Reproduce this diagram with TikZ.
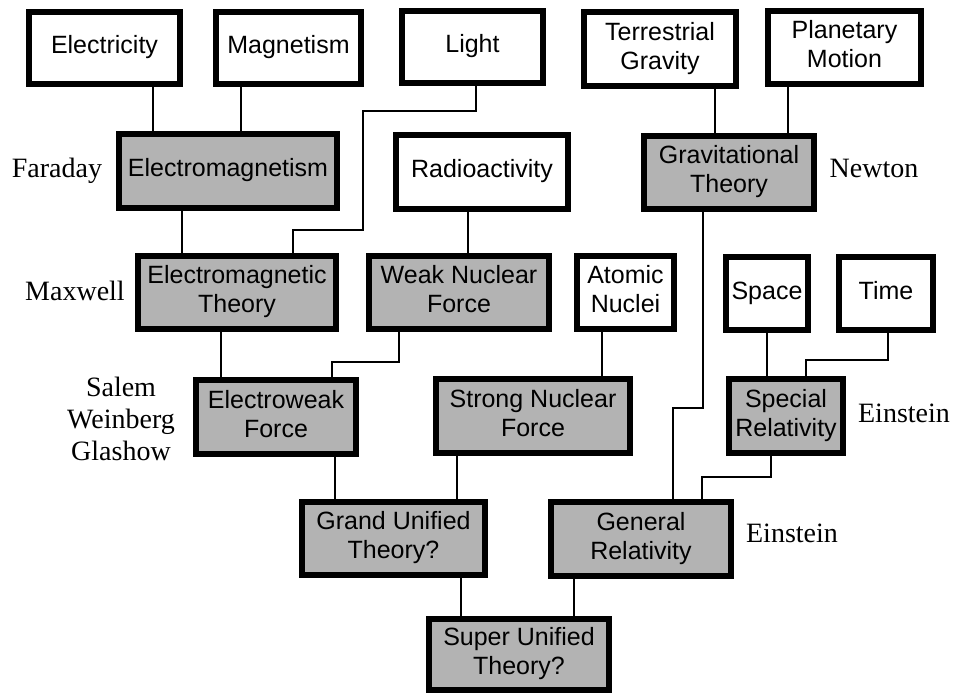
\documentclass[tikz,border=0pt]{standalone}
\usepackage{fontspec}
\setmainfont{Liberation Serif}
\newfontfamily\boxfont{Liberation Sans}
\definecolor{boxgray}{RGB}{179,179,179}
\begin{document}
\begin{tikzpicture}[x=1pt,y=-1pt,
  wbox/.style={draw=black, line width=6pt, fill=white, inner sep=0pt, align=center,
    font=\boxfont\fontsize{25}{29}\selectfont},
  gbox/.style={wbox, fill=boxgray},
  lab/.style={inner sep=0pt, align=center, font=\fontsize{28}{32}\selectfont},
  link/.style={line width=1.5pt, line cap=rect}]
\useasboundingbox[fill=white] (0,0) rectangle (953,693);
% top row
\node[wbox, minimum width=151, minimum height=72] (elec) at (104.5,48) {\strut Electricity};
\node[wbox, minimum width=145, minimum height=72] (mag) at (288.5,48) {\strut Magnetism};
\node[wbox, minimum width=141, minimum height=72] (light) at (472.5,47) {\strut Light};
\node[wbox, minimum width=152, minimum height=74] (terr) at (660,49) {\strut Terrestrial\\Gravity\strut};
\node[wbox, minimum width=153, minimum height=73] (plan) at (844.5,47.5) {\strut Planetary\\Motion\strut};
% second row
\node[gbox, minimum width=218, minimum height=74] (em) at (228,171) {\strut Electromagnetism};
\node[wbox, minimum width=172, minimum height=74] (radio) at (482,172) {\strut Radioactivity};
\node[gbox, minimum width=170, minimum height=73] (grav) at (729,172.5) {\strut Gravitational\\Theory\strut};
% third row
\node[gbox, minimum width=198, minimum height=73] (emt) at (237,292.5) {\strut Electromagnetic\\Theory\strut};
\node[gbox, minimum width=180, minimum height=73] (weak) at (459,292.5) {\strut Weak Nuclear\\Force\strut};
\node[wbox, minimum width=97, minimum height=73] (atom) at (625.5,292.5) {\strut Atomic\\Nuclei\strut};
\node[wbox, minimum width=82, minimum height=73] (space) at (767,293.5) {\strut Space};
\node[wbox, minimum width=94, minimum height=73] (time) at (886,293.5) {\strut Time};
% fourth row
\node[gbox, minimum width=160, minimum height=74] (ew) at (276,417) {\strut Electroweak\\Force\strut};
\node[gbox, minimum width=194, minimum height=74] (strong) at (533,416) {\strut Strong Nuclear\\Force\strut};
\node[gbox, minimum width=114, minimum height=74] (sr) at (786,416) {\strut Special\\Relativity\strut};
% fifth row
\node[gbox, minimum width=183, minimum height=73] (gut) at (393.5,538.5) {\strut Grand Unified\\Theory?\strut};
\node[gbox, minimum width=180, minimum height=74] (gr) at (641,539) {\strut General\\Relativity\strut};
% bottom
\node[gbox, minimum width=180, minimum height=71] (sut) at (519,654.5) {\strut Super Unified\\Theory?\strut};
% labels
\node[lab, anchor=base] (faraday) at (57,177) {Faraday};
\node[lab, anchor=base] (maxwell) at (75,300) {Maxwell};
\node[lab] (swg) at (121,418.5) {Salem\\Weinberg\\Glashow};
\node[lab, anchor=base] (newton) at (874,177) {Newton};
\node[lab, anchor=base] (einsr) at (904,422) {Einstein};
\node[lab, anchor=base] (eingr) at (792,542) {Einstein};
% connectors
\draw[link] (153,0 |- elec.south) -- (153,0 |- em.north);
\draw[link] (241,0 |- mag.south) -- (241,0 |- em.north);
\draw[link] (476,0 |- light.south) -- (476,111) -- (363,111) -- (363,230) -- (293,230) -- (293,0 |- emt.north);
\draw[link] (182,0 |- em.south) -- (182,0 |- emt.north);
\draw[link] (468,0 |- radio.south) -- (468,0 |- weak.north);
\draw[link] (715,0 |- terr.south) -- (715,0 |- grav.north);
\draw[link] (788,0 |- plan.south) -- (788,0 |- grav.north);
\draw[link] (703,0 |- grav.south) -- (703,408) -- (673,408) -- (673,0 |- gr.north);
\draw[link] (221,0 |- emt.south) -- (221,0 |- ew.north);
\draw[link] (399,0 |- weak.south) -- (399,362) -- (332,362) -- (332,0 |- ew.north);
\draw[link] (602,0 |- atom.south) -- (602,0 |- strong.north);
\draw[link] (767,0 |- space.south) -- (767,0 |- sr.north);
\draw[link] (888,0 |- time.south) -- (888,360) -- (806,360) -- (806,0 |- sr.north);
\draw[link] (335,0 |- ew.south) -- (335,0 |- gut.north);
\draw[link] (457,0 |- strong.south) -- (457,0 |- gut.north);
\draw[link] (771,0 |- sr.south) -- (771,477) -- (702,477) -- (702,0 |- gr.north);
\draw[link] (461,0 |- gut.south) -- (461,0 |- sut.north);
\draw[link] (574,0 |- gr.south) -- (574,0 |- sut.north);
\end{tikzpicture}
\end{document}
